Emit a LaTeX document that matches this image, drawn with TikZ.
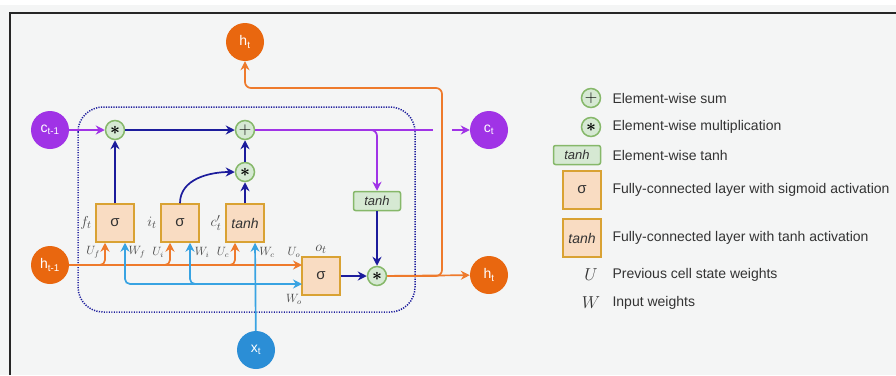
\documentclass[tikz,border=0pt]{standalone}
\usepackage{fontspec}
\setmainfont{Liberation Sans}
\usetikzlibrary{arrows.meta,calc}
\definecolor{cpurple}{HTML}{A033E6}
\definecolor{corange}{HTML}{E9670F}
\definecolor{oline}{HTML}{EE7A2C}
\definecolor{cblue}{HTML}{2B8ED6}
\definecolor{bline}{HTML}{38A3E2}
\definecolor{cnavy}{HTML}{1C1C9C}
\definecolor{opgreen}{HTML}{86B86A}
\definecolor{opfill}{HTML}{D6E9D3}
\definecolor{boxline}{HTML}{D9A233}
\definecolor{boxfill}{HTML}{F9DCC2}
\definecolor{bgcol}{HTML}{F4F5F5}
\definecolor{txtcol}{HTML}{333333}
\newcommand{\mulsym}{{\boldmath$\ast$}}
\tikzset{
 state/.style={circle,minimum size=38pt,inner sep=0pt,text=white,font=\fontsize{14}{16}\selectfont},
 op/.style={circle,draw=opgreen,fill=opfill,line width=1.5pt,minimum size=19pt,inner sep=0pt,text=black,font=\fontsize{16}{16}\selectfont},
 layer/.style={draw=boxline,fill=boxfill,line width=1.5pt,minimum size=38pt,inner sep=0pt,text=txtcol,font=\fontsize{15}{17}\selectfont},
 tanhop/.style={rounded corners=2pt,draw=opgreen,fill=opfill,line width=1.5pt,minimum width=47pt,minimum height=19pt,inner sep=0pt,text=txtcol,font=\fontsize{13}{15}\selectfont\itshape},
 gatelab/.style={text=txtcol!90,font=\fontsize{15}{17}\selectfont},
 wlab/.style={text=txtcol!90,font=\fontsize{11.5}{13}\selectfont},
 legtext/.style={anchor=west,text=txtcol,font=\fontsize{14}{16}\selectfont},
 pline/.style={draw=cpurple,line width=1.7pt},
 nline/.style={draw=cnavy,line width=1.7pt},
 oline/.style={draw=oline,line width=1.7pt},
 bline/.style={draw=bline,line width=1.7pt}
}
\begin{document}
\begin{tikzpicture}[x=1pt,y=-1pt,>={Stealth[length=9pt,width=9pt]}]
\useasboundingbox (0,0) rectangle (896,375);
\fill[bgcol] (0,0) rectangle (896,375);%背景
\fill[white] (0,0) rectangle (896,5);
\draw[line width=2pt,black!85] (10,375) -- (10,13) -- (896,13);%枠
\draw[cnavy,line width=1.5pt,dash pattern=on 1.2pt off 1.3pt,rounded corners=25pt] (78,107) rectangle (415,312);%セル
% 状態
\node[state,fill=cpurple] (cprev) at (50,130) {c\textsubscript{t-1}};
\node[state,fill=corange] (hprev) at (50,265) {h\textsubscript{t-1}};
\node[state,fill=cblue] (xt) at (256,350) {x\textsubscript{t}};
\node[state,fill=corange] (htop) at (245,42) {h\textsubscript{t}};
\node[state,fill=cpurple] (cnext) at (489,130) {c\textsubscript{t}};
\node[state,fill=corange] (hnext) at (489,275) {h\textsubscript{t}};
% 演算
\node[op] (fmul) at (115,130) {\mulsym};
\node[op] (add) at (245,130) {$+$};
\node[op] (imul) at (245,172) {\mulsym};
\node[op] (omul) at (377,276) {\mulsym};
\node[tanhop] (ctanh) at (377,201) {tanh};
% ゲート
\node[layer] (fgate) at (115,223) {σ};
\node[layer] (igate) at (180,223) {σ};
\node[layer,font=\fontsize{14}{16}\selectfont\itshape] (cgate) at (245,223) {tanh};
\node[layer] (ogate) at (321,276) {σ};
\foreach \g in {fgate,igate,cgate}{
 \coordinate (\g-u) at ([xshift=-10pt]\g.south);
 \coordinate (\g-w) at ([xshift=10pt]\g.south);
}
\coordinate (uoin) at (302,265);
\coordinate (woin) at (302,284);
\coordinate (xsplit) at (255,284);
\coordinate (cgap1) at (433,130);
\coordinate (cgap2) at (452,130);
\coordinate (hturn) at (442,88);
% ラベル
\node[gatelab] (flab) at (86,223) {$f_t$};
\node[gatelab] (ilab) at (152,223) {$i_t$};
\node[gatelab] (clab) at (216,223) {$c'_t$};
\node[gatelab] (olab) at (321,249) {$o_t$};
\node[wlab] (uflab) at (93,252) {$U_f$};
\node[wlab] (wflab) at (137,252) {$W_f$};
\node[wlab] (uilab) at (158,252) {$U_i$};
\node[wlab] (wilab) at (202,252) {$W_i$};
\node[wlab] (uclab) at (223,252) {$U_c$};
\node[wlab] (wclab) at (267,252) {$W_c$};
\node[wlab] (uolab) at (294,252) {$U_o$};
\node[wlab] (wolab) at (294,299) {$W_o$};
% セル状態
\draw[pline,->] (cprev) -- (fmul);
\draw[nline,->] (fmul) -- (add);
\draw[pline] (add) -- (cgap1);
\draw[pline,->] (cgap2) -- (cnext);
\draw[pline,->,rounded corners=6pt] (add.east) -| (ctanh.north);
\draw[nline,->] (ctanh) -- (omul);
% ゲート出力
\draw[nline,->] (fgate) -- (fmul);
\draw[nline,->] (igate.north) to[out=90,in=180] (imul.west);
\draw[nline,->] (cgate) -- (imul);
\draw[nline,->] (imul) -- (add);
\draw[nline,->] (ogate) -- (omul);
% 出力
\draw[oline,->] (omul) -- (hnext);
\draw[oline,->,rounded corners=6pt] (omul.east) -| (hturn) -| (htop.south);
% 入力 h_{t-1}
\draw[oline,->] (hprev) -- (uoin);
\foreach \g in {fgate,igate,cgate}
 \draw[oline,->,rounded corners=5pt] ($(\g-u |- hprev)+(-8,0)$) -| (\g-u);
% 入力 x_t
\draw[bline,->] (xt) -- (cgate-w);
\draw[bline,->,rounded corners=5pt] (xsplit) -| (fgate-w);
\draw[bline,->,rounded corners=5pt] (xsplit) -| (igate-w);
\draw[bline,->] (xsplit) -- (woin);
% 凡例
\node[op] (lgsum) at (591,98) {$+$};
\node[op] (lgmul) at (591,127) {\mulsym};
\node[tanhop] (lgtanh) at (577,155) {tanh};
\node[layer] (lgsig) at (582,190) {σ};
\node[layer,font=\fontsize{14}{16}\selectfont\itshape] (lglin) at (582,238) {tanh};
\node[text=txtcol,font=\fontsize{17}{19}\selectfont] (lgu) at (591,275) {$U$};
\node[text=txtcol,font=\fontsize{17}{19}\selectfont] (lgw) at (591,303) {$W$};
\node[legtext] (lgsumt) at (609,98) {Element-wise sum};
\node[legtext] (lgmult) at (609,127) {Element-wise multiplication};
\node[legtext] (lgtanht) at (609,155) {Element-wise tanh};
\node[legtext] (lgsigt) at (609,190) {Fully-connected layer with sigmoid activation};
\node[legtext] (lglint) at (609,238) {Fully-connected layer with tanh activation};
\node[legtext] (lgut) at (609,275) {Previous cell state weights};
\node[legtext] (lgwt) at (609,303) {Input weights};
\end{tikzpicture}
\end{document}
